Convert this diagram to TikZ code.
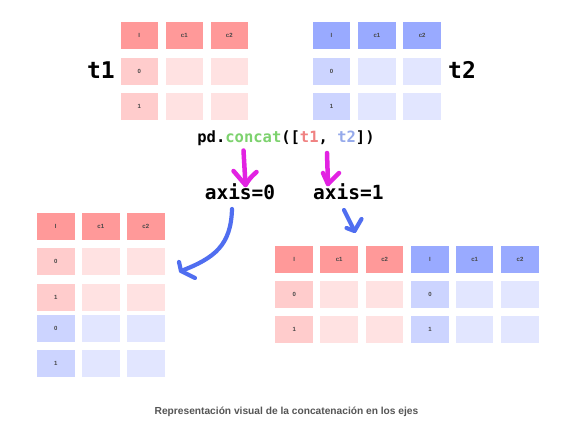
\documentclass[tikz,border=0pt]{standalone}
\usepackage{fontspec}
\setmainfont{Liberation Sans}
\newfontfamily\codefont{DejaVu Sans Mono}
\usetikzlibrary{positioning}
\definecolor{redH}{RGB}{255,153,153}
\definecolor{redI}{RGB}{255,204,204}
\definecolor{redD}{RGB}{255,226,226}
\definecolor{bluH}{RGB}{153,170,255}
\definecolor{bluI}{RGB}{204,212,255}
\definecolor{bluD}{RGB}{226,230,255}
\definecolor{cellTxt}{RGB}{70,70,70}
\definecolor{magArr}{RGB}{226,34,226}
\definecolor{bluArr}{RGB}{80,110,240}
\definecolor{codeGreen}{RGB}{125,210,110}
\definecolor{codeRed}{RGB}{240,130,130}
\definecolor{codeBlue}{RGB}{150,170,235}
\definecolor{capGray}{RGB}{85,85,85}
\tikzset{
  cell/.style={rectangle, minimum width=37.5pt, minimum height=27pt, inner sep=0pt,
    font=\fontsize{6}{7}\selectfont\bfseries, text=cellTxt},
  rh/.style={cell, fill=redH}, ri/.style={cell, fill=redI}, rd/.style={cell, fill=redD},
  bh/.style={cell, fill=bluH}, bi/.style={cell, fill=bluI}, bd/.style={cell, fill=bluD},
  tlabel/.style={font=\codefont\bfseries\fontsize{23}{24}\selectfont, inner sep=0pt},
  axislabel/.style={font=\codefont\bfseries\fontsize{19.5}{20}\selectfont, inner sep=0pt},
  magstroke/.style={draw=magArr, line width=4.5pt, line cap=round, line join=round},
  blustroke/.style={draw=bluArr, line width=4.2pt, line cap=round, line join=round},
}
\begin{document}
\begin{tikzpicture}[x=1pt, y=-1pt]
\useasboundingbox[fill=white] (0,0) rectangle (565,428);
% t1
\node[rh] (a00) at (139.3,35.8) {I};
\node[rh] (a01) at (184.3,35.8) {c1};
\node[rh] (a02) at (229.3,35.8) {c2};
\node[ri] (a10) at (139.3,71.2) {0};
\node[rd] (a11) at (184.3,71.2) {};
\node[rd] (a12) at (229.3,71.2) {};
\node[ri] (a20) at (139.3,106.8) {1};
\node[rd] (a21) at (184.3,106.8) {};
\node[rd] (a22) at (229.3,106.8) {};
\node[tlabel] (t1) at (101,70) {t1};
% t2
\node[bh] (b00) at (331.5,35.8) {I};
\node[bh] (b01) at (376.9,35.8) {c1};
\node[bh] (b02) at (422.2,35.8) {c2};
\node[bi] (b10) at (331.5,71.2) {0};
\node[bd] (b11) at (376.9,71.2) {};
\node[bd] (b12) at (422.2,71.2) {};
\node[bi] (b20) at (331.5,106.8) {1};
\node[bd] (b21) at (376.9,106.8) {};
\node[bd] (b22) at (422.2,106.8) {};
\node[tlabel] (t2) at (462,70) {t2};
% code
\node[font=\codefont\bfseries\fontsize{15.5}{16}\selectfont, inner sep=0pt] (concat) at (286,138)
  {pd.\textcolor{codeGreen}{concat}([\textcolor{codeRed}{t1}, \textcolor{codeBlue}{t2}])};
\node[axislabel] (ax0) at (240,191.5) {axis=0};
\node[axislabel] (ax1) at (348.3,191.5) {axis=1};
% bottom-left table (axis=0)
\node[rh] (c00) at (55.8,226.2) {I};
\node[rh] (c01) at (100.8,226.2) {c1};
\node[rh] (c02) at (145.8,226.2) {c2};
\node[ri] (c10) at (55.8,261.5) {0};
\node[rd] (c11) at (100.8,261.5) {};
\node[rd] (c12) at (145.8,261.5) {};
\node[ri] (c20) at (55.8,297.2) {1};
\node[rd] (c21) at (100.8,297.2) {};
\node[rd] (c22) at (145.8,297.2) {};
\node[bi] (c30) at (55.8,328) {0};
\node[bd] (c31) at (100.8,328) {};
\node[bd] (c32) at (145.8,328) {};
\node[bi] (c40) at (55.8,363.5) {1};
\node[bd] (c41) at (100.8,363.5) {};
\node[bd] (c42) at (145.8,363.5) {};
% bottom-right table (axis=1)
\node[rh] (d00) at (294.2,259.2) {I};
\node[rh] (d01) at (339.2,259.2) {c1};
\node[rh] (d02) at (384.7,259.2) {c2};
\node[bh] (d03) at (430,259.2) {I};
\node[bh] (d04) at (474.7,259.2) {c1};
\node[bh] (d05) at (520,259.2) {c2};
\node[ri] (d10) at (294.2,294.7) {0};
\node[rd] (d11) at (339.2,294.7) {};
\node[rd] (d12) at (384.7,294.7) {};
\node[bi] (d13) at (430,294.7) {0};
\node[bd] (d14) at (474.7,294.7) {};
\node[bd] (d15) at (520,294.7) {};
\node[ri] (d20) at (294.2,329.7) {1};
\node[rd] (d21) at (339.2,329.7) {};
\node[rd] (d22) at (384.7,329.7) {};
\node[bi] (d23) at (430,329.7) {1};
\node[bd] (d24) at (474.7,329.7) {};
\node[bd] (d25) at (520,329.7) {};
% arrow end points
\coordinate (m1s) at (243.5,150.5);
\coordinate (m1t) at (245.5,185);
\coordinate (m2s) at (327,153);
\coordinate (m2t) at (328,184);
\coordinate (b1s) at (232,209);
\coordinate (b1t) at (181,271);
\coordinate (b2s) at (344,210);
\coordinate (b2t) at (354.5,231);
% magenta arrows
\draw[magstroke] (m1s) -- (m1t);
\draw[magstroke] (m1t) ++(-12,-14) -- (m1t) .. controls (250,178) .. ++(11,-13);
\draw[magstroke] (m2s) -- (m2t);
\draw[magstroke] (m2t) ++(-5,-11) -- (m2t) .. controls (333,178) .. ++(11,-11);
% blue arrows
\draw[blustroke] (b1s) .. controls (231,245) and (215,258) .. (b1t);
\draw[blustroke] (b1t) ++(-2,-9) -- (b1t) -- ++(14,7);
\draw[blustroke] (b2s) -- (b2t);
\draw[blustroke] (b2t) ++(-8,-3) -- (b2t) -- ++(7,-12);
% caption
\node[font=\fontsize{10.2}{12}\selectfont\bfseries, text=capGray, inner sep=0pt] (cap) at (286.5,412)
  {Representación visual de la concatenación en los ejes};
\end{tikzpicture}
\end{document}
